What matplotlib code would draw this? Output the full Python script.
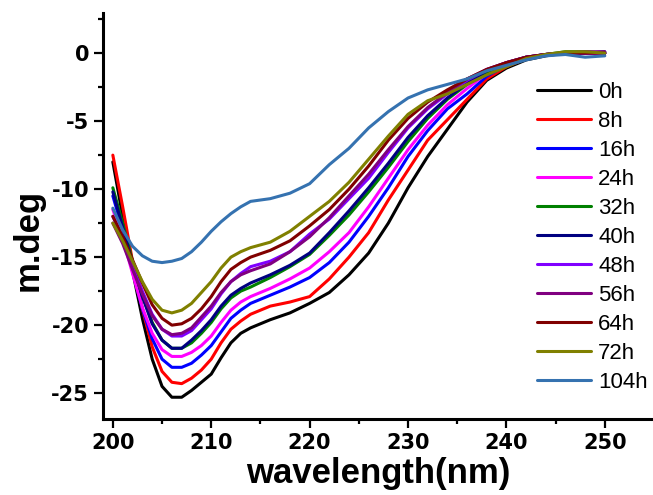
import matplotlib
matplotlib.use("Agg")
import matplotlib.pyplot as plt
from matplotlib.ticker import MultipleLocator

plt.rcParams["axes.unicode_minus"] = False

# wavelength grid (nm)
wl = [200, 201, 202, 203, 204, 205, 206, 207, 208, 209, 210, 211, 212, 213, 214,
      216, 218, 220, 222, 224, 226, 228, 230, 232, 234, 236, 238, 240, 242, 244,
      246, 248, 250]

h0 = [-8.0, -12.0, -16.0, -19.5, -22.5, -24.5, -25.3, -25.3, -24.8, -24.2, -23.6,
      -22.4, -21.3, -20.6, -20.2, -19.6, -19.1, -18.4, -17.6, -16.3, -14.7, -12.5,
      -9.9, -7.6, -5.6, -3.6, -2.0, -1.1, -0.5, -0.2, 0.0, 0.0, 0.0]
h8 = [-7.5, -11.3, -15.3, -18.8, -21.6, -23.4, -24.2, -24.3, -23.9, -23.3, -22.5,
      -21.3, -20.3, -19.7, -19.2, -18.6, -18.3, -17.9, -16.6, -15.0, -13.2, -10.8,
      -8.6, -6.4, -4.9, -3.4, -1.9, -1.0, -0.4, -0.1, 0.0, 0.0, 0.0]
h16 = [-10.5, -13.0, -16.0, -18.8, -21.0, -22.5, -23.1, -23.1, -22.8, -22.2, -21.5,
       -20.5, -19.5, -18.9, -18.4, -17.8, -17.2, -16.5, -15.4, -13.9, -12.0, -9.9,
       -7.6, -5.7, -4.1, -3.0, -1.7, -0.9, -0.4, -0.1, 0.0, 0.0, 0.0]
h24 = [-11.5, -13.6, -16.2, -18.7, -20.6, -21.8, -22.3, -22.3, -22.0, -21.5, -20.8,
       -19.8, -18.9, -18.3, -17.9, -17.3, -16.6, -15.8, -14.6, -13.2, -11.3, -9.2,
       -7.1, -5.3, -3.8, -2.6, -1.5, -0.9, -0.4, -0.1, 0.0, 0.0, 0.0]
h32 = [-9.9, -12.5, -15.3, -17.8, -19.8, -21.1, -21.7, -21.7, -21.3, -20.6, -19.8,
       -18.8, -18.0, -17.5, -17.2, -16.5, -15.7, -14.8, -13.4, -11.9, -10.2, -8.4,
       -6.5, -4.8, -3.4, -2.3, -1.4, -0.8, -0.3, -0.1, 0.1, 0.1, 0.0]
h40 = [-10.2, -12.8, -15.5, -17.9, -19.9, -21.1, -21.7, -21.7, -21.1, -20.4, -19.6,
       -18.6, -17.8, -17.3, -16.9, -16.3, -15.6, -14.7, -13.2, -11.6, -9.9, -8.1,
       -6.2, -4.6, -3.3, -2.2, -1.3, -0.7, -0.3, -0.1, 0.0, 0.0, 0.1]
h48 = [-12.0, -13.6, -15.6, -17.5, -19.2, -20.3, -20.8, -20.8, -20.4, -19.6, -18.8,
       -17.7, -16.8, -16.2, -15.7, -15.3, -14.6, -13.3, -12.2, -10.7, -9.2, -7.3,
       -5.5, -4.1, -3.0, -2.0, -1.2, -0.7, -0.3, -0.1, 0.0, 0.0, 0.0]
h56 = [-12.5, -14.0, -15.9, -17.7, -19.3, -20.3, -20.7, -20.6, -20.2, -19.4, -18.6,
       -17.6, -16.8, -16.3, -16.0, -15.5, -14.6, -13.5, -12.1, -10.5, -8.9, -7.1,
       -5.4, -4.0, -2.9, -1.9, -1.2, -0.7, -0.3, -0.1, 0.0, 0.1, 0.1]
h64 = [-12.0, -13.5, -15.2, -16.9, -18.5, -19.5, -20.0, -19.9, -19.5, -18.8, -17.9,
       -16.8, -15.9, -15.4, -15.0, -14.5, -13.8, -12.7, -11.5, -10.0, -8.3, -6.4,
       -4.8, -3.6, -2.7, -1.9, -1.2, -0.7, -0.3, -0.1, 0.0, 0.0, 0.0]
h72 = [-12.5, -13.8, -15.3, -16.8, -18.1, -18.9, -19.1, -18.9, -18.4, -17.6, -16.8,
       -15.8, -15.0, -14.6, -14.3, -13.9, -13.1, -12.0, -10.9, -9.5, -7.8, -6.1,
       -4.5, -3.5, -3.0, -2.3, -1.6, -1.0, -0.4, -0.1, 0.1, 0.1, 0.0]
h104 = [-11.4, -13.0, -14.2, -14.9, -15.3, -15.4, -15.3, -15.1, -14.6, -13.9, -13.1,
        -12.4, -11.8, -11.3, -10.9, -10.7, -10.3, -9.6, -8.2, -7.0, -5.5, -4.3,
        -3.3, -2.7, -2.3, -1.9, -1.3, -0.9, -0.5, -0.2, -0.1, -0.3, -0.2]

labels = ["0h", "8h", "16h", "24h", "32h", "40h", "48h", "56h", "64h", "72h", "104h"]
series = [h0, h8, h16, h24, h32, h40, h48, h56, h64, h72, h104]
colors = ["#000000", "#ff0000", "#0000ff", "#ff00ff", "#008000", "#000080",
          "#8000ff", "#800080", "#800000", "#808000", "#3572b0"]

fig = plt.figure(figsize=(6.53, 4.95), dpi=100)
ax = fig.add_axes([103 / 653, 76 / 495, 550 / 653, 406 / 495])

for y, c, lab in zip(series, colors, labels):
    ax.plot(wl, y, color=c, lw=2.2, label=lab,
            solid_joinstyle="round", solid_capstyle="round")

ax.set_xlim(199.0, 254.9)
ax.set_ylim(-26.9, 2.95)
ax.xaxis.set_major_locator(MultipleLocator(10))
ax.xaxis.set_minor_locator(MultipleLocator(5))
ax.yaxis.set_major_locator(MultipleLocator(5))
ax.yaxis.set_minor_locator(MultipleLocator(2.5))

ax.spines["top"].set_visible(False)
ax.spines["right"].set_visible(False)
ax.spines["left"].set_linewidth(2.2)
ax.spines["bottom"].set_linewidth(2.2)
ax.tick_params(which="major", direction="out", length=6.5, width=1.6, labelsize=15)
ax.tick_params(which="minor", direction="out", length=3.5, width=1.6)
for t in ax.get_xticklabels() + ax.get_yticklabels():
    t.set_fontweight("bold")

lab_font = {"family": "Liberation Sans", "weight": "bold", "size": 25}
ax.set_xlabel("wavelength(nm)", fontdict=lab_font)
ax.set_ylabel("m.deg", fontdict=lab_font)
ax.xaxis.set_label_coords(0.5, -0.093)
ax.yaxis.set_label_coords(-0.1065, 0.441)

leg = ax.legend(loc="upper left", bbox_to_anchor=(537 / 653, 1 - 82 / 495),
                bbox_transform=fig.transFigure, frameon=False,
                prop={"family": "Liberation Sans", "size": 16},
                handlelength=2.45, handletextpad=0.3, labelspacing=0.36,
                borderpad=0, borderaxespad=0)
for line in leg.get_lines():
    line.set_linewidth(2.2)

fig.savefig("out.png", dpi=100)
